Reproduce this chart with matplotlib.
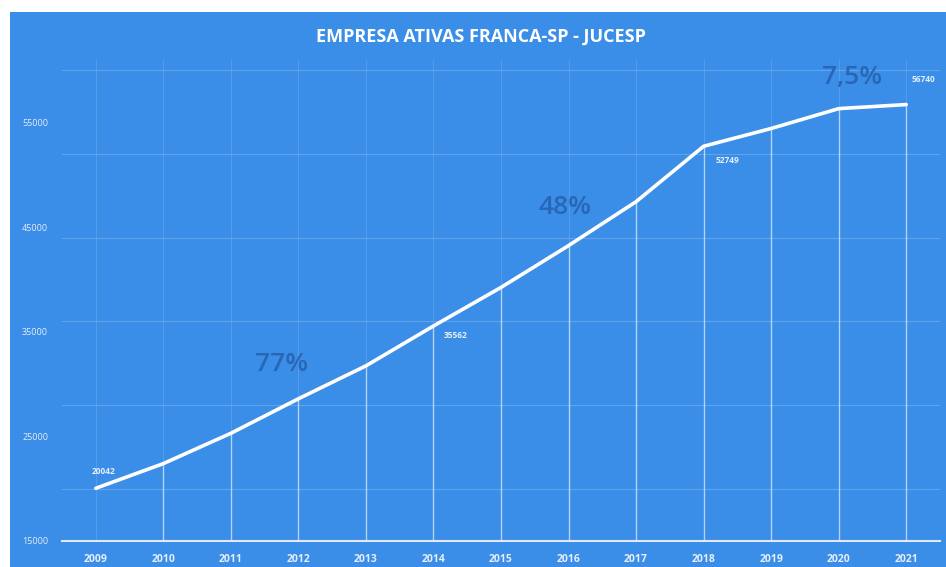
import matplotlib
matplotlib.use("Agg")
import matplotlib.pyplot as plt
from matplotlib.patches import Rectangle

# --- data ---
years = [2009, 2010, 2011, 2012, 2013, 2014, 2015, 2016, 2017, 2018, 2019, 2020, 2021]
empresas = [20042, 22400, 25300, 28600, 31750, 35562, 39250, 43250, 47450, 52749, 54450, 56350, 56740]
labeled_years = [2009, 2014, 2018, 2021]
y_ticks = [15000, 25000, 35000, 45000, 55000]
grid_levels = [20000, 28000, 36000, 44000, 52000, 60000]
growth_text = ["77%", "48%", "7,5%"]
growth_pos = [(2011.75, 31850), (2015.95, 46850), (2020.2, 59350)]

bg = "#3a8ee8"
txt_light = "#e6eefa"
dark_blue = "#2866b6"

plt.rcParams["font.family"] = ["Open Sans", "DejaVu Sans"]

fig = plt.figure(figsize=(9.46, 5.67), dpi=100, facecolor="white")
fig.patches.append(Rectangle((10 / 946, 0), 1, 1 - 12 / 567, transform=fig.transFigure,
                             facecolor=bg, edgecolor="none", zorder=-5))

ax = fig.add_axes([62 / 946, 1 - 541 / 567, 878 / 946, (541 - 60) / 567])
ax.set_zorder(2)
ax.set_facecolor("none")
ax.set_xlim(2008.5, 2021.5)
ax.set_ylim(15000, 61000)

for s in ["top", "right", "left"]:
    ax.spines[s].set_visible(False)
ax.spines["bottom"].set_color("#dfe9f8")
ax.spines["bottom"].set_linewidth(1.5)

# faint grid
for g in grid_levels:
    ax.axhline(g, color="#8fbdf2", lw=0.8, alpha=0.45, zorder=1)
for yr in years:
    ax.axvline(yr, color="#8fbdf2", lw=0.8, alpha=0.3, zorder=1)

# drop lines from each point to the baseline
ax.vlines(years[1:], 15000, empresas[1:], color="#d6e6fb", lw=1.0, alpha=0.75, zorder=2)

ax.plot(years, empresas, color="white", lw=2.6, solid_capstyle="round", zorder=3)

# value labels
offsets = {2009: (0.12, 1600), 2014: (0.33, -900), 2018: (0.35, -1400), 2021: (0.25, 2400)}
for yr, v in zip(years, empresas):
    if yr in labeled_years:
        dx, dy = offsets[yr]
        ax.text(yr + dx, v + dy, str(v), color=txt_light, fontsize=6, fontweight="bold",
                ha="center", va="center", zorder=4)

for t, (px, py) in zip(growth_text, growth_pos):
    ax.text(px, py, t, color=dark_blue, fontsize=19, fontweight="semibold",
            ha="center", va="center", zorder=4)

ax.set_xticks(years)
ax.set_xticklabels([str(y) for y in years], color=txt_light, fontsize=7.5, fontweight="bold")
ax.set_yticks(y_ticks)
ax.set_yticklabels([str(y) for y in y_ticks], color=txt_light, fontsize=6.5)
ax.tick_params(axis="both", length=0)
ax.tick_params(axis="x", pad=9)
ax.tick_params(axis="y", pad=10)

fig.text(481 / 946, 1 - 37 / 567, "EMPRESA ATIVAS FRANCA-SP - JUCESP", color="white",
         fontsize=13, fontweight="bold", ha="center", va="center")

fig.savefig("out.png", dpi=100, facecolor="white")
